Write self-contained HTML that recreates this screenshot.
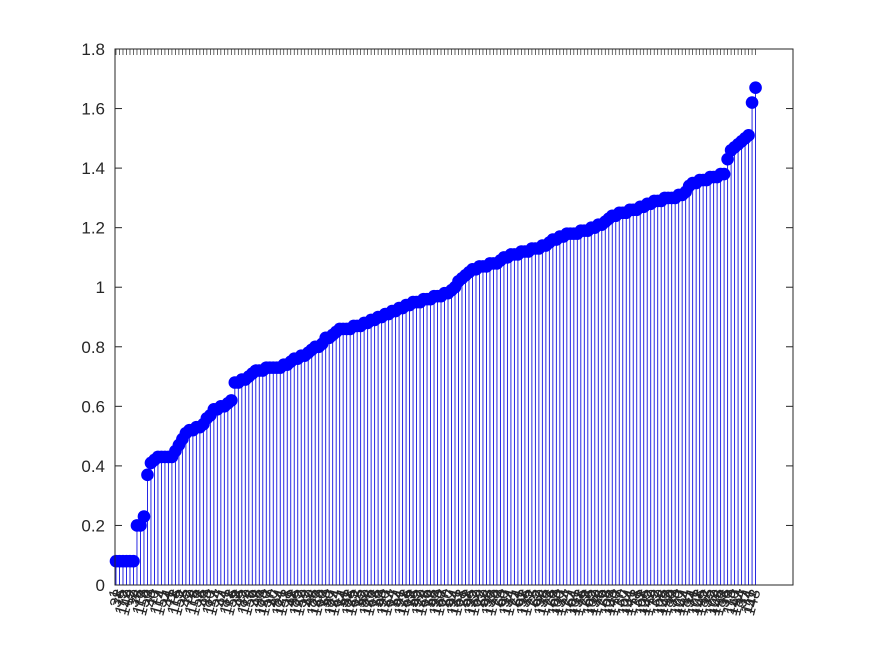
<!DOCTYPE html>
<html><head><meta charset="utf-8"><style>
body{margin:0;background:#fff;}
svg{display:block;font-family:"Liberation Sans",sans-serif;}
</style></head><body>
<svg id="chart" width="875" height="656" viewBox="0 0 875 656" xmlns="http://www.w3.org/2000/svg">
<rect width="875" height="656" fill="#fff"/>
<g id="stems"></g>
<g id="marks"></g>
<g id="axes"></g>
</svg>
<script>
const values = [0.08,0.08,0.08,0.08,0.08,0.08,0.20,0.20,0.23,0.37,
0.41,0.42,0.43,0.43,0.43,0.43,0.43,0.45,0.47,0.49,
0.51,0.52,0.52,0.53,0.53,0.54,0.56,0.57,0.59,0.59,
0.60,0.60,0.61,0.62,0.68,0.68,0.69,0.69,0.70,0.71,
0.72,0.72,0.72,0.73,0.73,0.73,0.73,0.73,0.74,0.74,
0.75,0.76,0.76,0.77,0.77,0.78,0.79,0.80,0.80,0.81,
0.83,0.83,0.84,0.85,0.86,0.86,0.86,0.86,0.87,0.87,
0.87,0.88,0.88,0.89,0.89,0.90,0.90,0.91,0.91,0.92,
0.92,0.93,0.93,0.94,0.94,0.95,0.95,0.95,0.96,0.96,
0.96,0.97,0.97,0.97,0.98,0.98,0.99,1.00,1.02,1.03,
1.04,1.05,1.06,1.06,1.07,1.07,1.07,1.08,1.08,1.08,
1.09,1.10,1.10,1.11,1.11,1.11,1.12,1.12,1.12,1.13,
1.13,1.13,1.14,1.14,1.15,1.16,1.16,1.17,1.17,1.18,
1.18,1.18,1.18,1.19,1.19,1.19,1.20,1.20,1.21,1.21,
1.22,1.23,1.24,1.24,1.25,1.25,1.25,1.26,1.26,1.26,
1.27,1.27,1.28,1.28,1.29,1.29,1.29,1.30,1.30,1.30,
1.30,1.31,1.31,1.32,1.34,1.35,1.35,1.36,1.36,1.36,
1.37,1.37,1.37,1.38,1.38,1.43,1.46,1.47,1.48,1.49,
1.50,1.51,1.62,1.67];
const categories = values.map((v,i)=>String(((i*37)%184)+1));
const yTicks = [0,0.2,0.4,0.6,0.8,1,1.2,1.4,1.6,1.8];
const yTickLabels = ["0","0.2","0.4","0.6","0.8","1","1.2","1.4","1.6","1.8"];

const L=115,R=793,T=49,B=585, XMIN=1, XMAX=195, YMAX=1.8;
const xs = i => L + (i+1-XMIN)/(XMAX-XMIN)*(R-L) + 1;
const ys = v => B - v/YMAX*(B-T);
const NS="http://www.w3.org/2000/svg";
function mk(tag,attrs,parent){const e=document.createElementNS(NS,tag);for(const k in attrs)e.setAttribute(k,attrs[k]);parent.appendChild(e);return e;}
const stems=document.getElementById('stems'),marks=document.getElementById('marks'),axes=document.getElementById('axes');

values.forEach((v,i)=>{
  const x=xs(i);
  const s=mk('line',{x1:x,x2:x,y1:B,y2:ys(v),stroke:'#1010e0','stroke-width':0.9},stems);
  
  
});
values.forEach((v,i)=>{
  const c=mk('circle',{cx:xs(i),cy:ys(v),r:6.3,fill:'#0000ff'},marks);
  
  
});
const box=mk('rect',{x:L,y:T,width:R-L,height:B-T,fill:'none',stroke:'#262626','stroke-width':1},axes);


yTicks.forEach((t,k)=>{
  const y=ys(t);
  mk('line',{x1:L,x2:L+7,y1:y,y2:y,stroke:'#262626'},axes);
  mk('line',{x1:R,x2:R-7,y1:y,y2:y,stroke:'#262626'},axes);
  const tx=mk('text',{x:L-10,y:y+6,'text-anchor':'end','font-size':17,fill:'#262626'},axes);
  tx.textContent=yTickLabels[k];
  
  
});
categories.forEach((c,i)=>{
  const x=xs(i);
  mk('line',{x1:x,x2:x,y1:T,y2:T+6,stroke:'#262626','stroke-width':0.7},axes);
  const tx=mk('text',{x:0,y:0,'text-anchor':'end','font-size':16,fill:'#262626',transform:`translate(${x+5},${B+6}) rotate(-75)`},axes);
  tx.textContent=c;
  
  
});
</script>
</body></html>
